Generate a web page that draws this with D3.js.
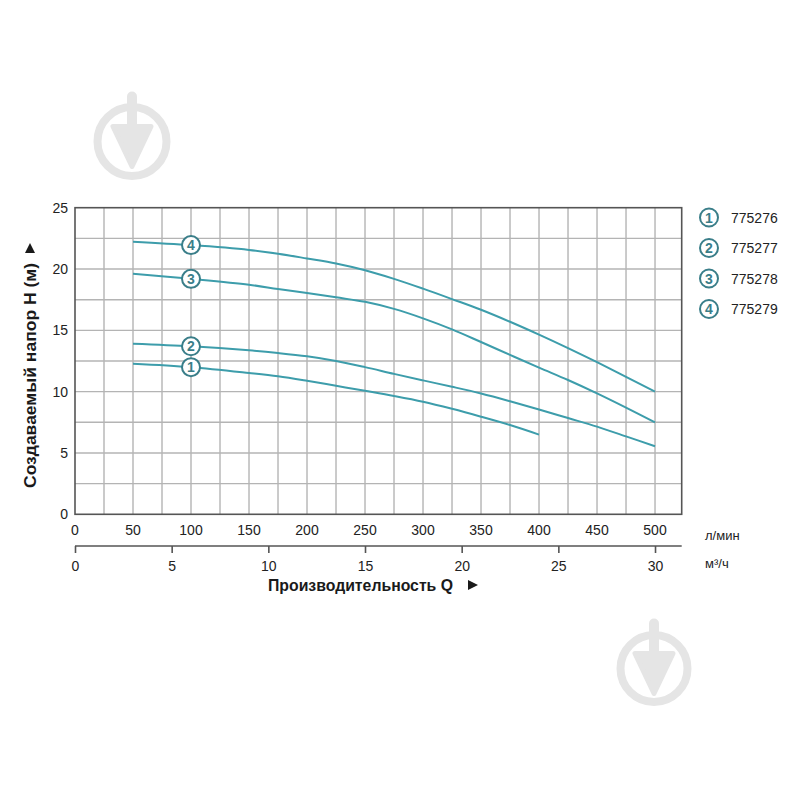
<!DOCTYPE html>
<html><head><meta charset="utf-8">
<script src="https://cdn.jsdelivr.net/npm/d3@7"></script>
<style>
html,body{margin:0;padding:0;background:#fff;}
svg{display:block;font-family:"Liberation Sans",Arial,sans-serif;}
</style></head>
<body>
<svg id="chart" width="799" height="799"></svg>
<script>
// ---- data ----
const flowLpm = [50,100,150,175,200,225,250,275,300,325,350,375,400,425,450,475,500];
const head775276 = [12.28,12.0,11.53,11.26,10.89,10.48,10.07,9.65,9.18,8.6,7.96,7.28,6.5];
const head775277 = [13.91,13.7,13.37,13.15,12.88,12.5,12.0,11.45,10.92,10.4,9.85,9.22,8.55,7.85,7.15,6.35,5.55];
const head775278 = [19.62,19.2,18.72,18.37,18.04,17.69,17.33,16.75,15.98,15.08,14.05,13.0,11.96,10.95,9.86,8.7,7.5];
const head775279 = [22.23,21.95,21.56,21.25,20.86,20.45,19.9,19.2,18.4,17.55,16.68,15.7,14.65,13.55,12.4,11.2,10.0];
const seriesNames = ["775276","775277","775278","775279"];
const seriesNums = ["1","2","3","4"];
const yTicks = [0,5,10,15,20,25];
const xTicksLpm = [0,50,100,150,200,250,300,350,400,450,500];
const xTicksM3h = [0,5,10,15,20,25,30];
const markerQ = 100;
const xUnit1 = "л/мин";
const xUnit2 = "м³/ч";
const xTitle = "Производительность Q";
const yTitle = "Создаваемый напор Н (м)";

// ---- layout ----
const svg = d3.select("#chart");
const L = 75, R = 681.7, T = 207.7, B = 514.3;
const x = d3.scaleLinear().domain([0, 523]).range([L, R]);
const y = d3.scaleLinear().domain([0, 25]).range([B, T]);
const x2 = d3.scaleLinear().domain([0, 523*60/1000]).range([L, R]);
const teal = "#3d9dab", dark = "#3a7e89", wm = "#e5e5e5";

// watermark icons
function icon(cx, cy, r){
  const g = svg.append("g").attr("fill", wm).attr("stroke", wm);
  g.append("circle").attr("cx",cx).attr("cy",cy).attr("r",r).attr("fill","none").attr("stroke-width",8);
  g.append("rect").attr("x",cx-5).attr("y",cy-50).attr("width",10).attr("height",40).attr("rx",5).attr("stroke","none");
  g.append("path").attr("d",`M${cx-19},${cy-15}L${cx+19},${cy-15}L${cx},${cy+25}Z`)
    .attr("stroke-width",5).attr("stroke-linejoin","round");
}
icon(132, 141.5, 34.5);
icon(654, 668.5, 33.5);

// grid
const grid = svg.append("g").attr("stroke","#b4b4b4").attr("stroke-width",1.4);
grid.selectAll("line.v").data(d3.range(25, 501, 25)).join("line")
  .attr("x1",d=>x(d)).attr("x2",d=>x(d)).attr("y1",T).attr("y2",B);
grid.selectAll("line.h").data(d3.range(2.5, 25, 2.5)).join("line")
  .attr("x1",L).attr("x2",R).attr("y1",d=>y(d)).attr("y2",d=>y(d));

// frame
svg.append("rect").attr("x",L).attr("y",T).attr("width",R-L).attr("height",B-T)
  .attr("fill","none").attr("stroke","#555").attr("stroke-width",1.6);

// y ticks
svg.append("g").selectAll("text").data(yTicks).join("text")
  .attr("x",68).attr("y",d=>y(d)+5).attr("text-anchor","end")
  .attr("font-size",14).attr("fill","#222").text(d=>d);

// x ticks (l/min)
svg.append("g").selectAll("text").data(xTicksLpm).join("text")
  .attr("x",d=>x(d)).attr("y",535).attr("text-anchor","middle")
  .attr("font-size",14).attr("fill","#222").text(d=>d);
svg.append("text").attr("x",705).attr("y",540).attr("font-size",13).attr("fill","#222").text(xUnit1);

// second axis (m3/h)
const ax2 = svg.append("g").attr("transform","translate(0,546)");
ax2.call(d3.axisBottom(x2).tickValues(xTicksM3h).tickSize(7).tickSizeOuter(0).tickFormat(d=>d));
ax2.select(".domain").attr("stroke","#555").attr("stroke-width",1.6).attr("d",`M${L},0H${R}`);
ax2.selectAll(".tick line").attr("stroke","#555").attr("stroke-width",1.6);
ax2.selectAll(".tick text").attr("font-size",14).attr("fill","#222").attr("font-family","Liberation Sans, Arial, sans-serif").attr("dy","1.05em");
svg.append("text").attr("x",705).attr("y",568).attr("font-size",13).attr("fill","#222").text(xUnit2);

// titles
svg.append("text").attr("x",268).attr("y",591).attr("font-size",16).attr("font-weight","bold")
  .attr("fill","#1a1a1a").attr("textLength",185).attr("lengthAdjust","spacingAndGlyphs").text(xTitle);
svg.append("path").attr("d","M468,580L478,585L468,590Z").attr("fill","#1a1a1a");
svg.append("text").attr("transform","translate(36,488) rotate(-90)").attr("font-size",16.5)
  .attr("font-weight","bold").attr("fill","#1a1a1a").attr("textLength",225).attr("lengthAdjust","spacingAndGlyphs").text(yTitle);
svg.append("path").attr("d","M25,253L30,243L35,253Z").attr("fill","#1a1a1a");

// curves
const allSeries = [head775276, head775277, head775278, head775279];
const line = d3.line().x(d=>x(d[0])).y(d=>y(d[1])).curve(d3.curveCatmullRom.alpha(0.5));
allSeries.forEach((s,i)=>{
  const pts = s.map((h,j)=>[flowLpm[j], h]);
  svg.append("path").datum(pts).attr("d",line).attr("fill","none")
    .attr("stroke",teal).attr("stroke-width",2);
  const h = s[flowLpm.indexOf(markerQ)];
  svg.append("circle").attr("cx",x(markerQ)).attr("cy",y(h)).attr("r",9)
    .attr("fill","#fff").attr("stroke",dark).attr("stroke-width",2);
  svg.append("text").attr("x",x(markerQ)).attr("y",y(h)+5).attr("text-anchor","middle")
    .attr("font-size",14).attr("font-weight","bold").attr("fill",dark).text(seriesNums[i]);
});

// legend
const lg = svg.append("g");
seriesNames.forEach((n,i)=>{
  const cy = 217.5 + i*30.5;
  lg.append("circle").attr("cx",709).attr("cy",cy).attr("r",9)
    .attr("fill","#fff").attr("stroke",dark).attr("stroke-width",2);
  lg.append("text").attr("x",709).attr("y",cy+5).attr("text-anchor","middle")
    .attr("font-size",14).attr("font-weight","bold").attr("fill",dark).text(seriesNums[i]);
  lg.append("text").attr("x",731).attr("y",cy+5).attr("font-size",14).attr("fill","#222").text(n);
});
</script>
</body></html>
